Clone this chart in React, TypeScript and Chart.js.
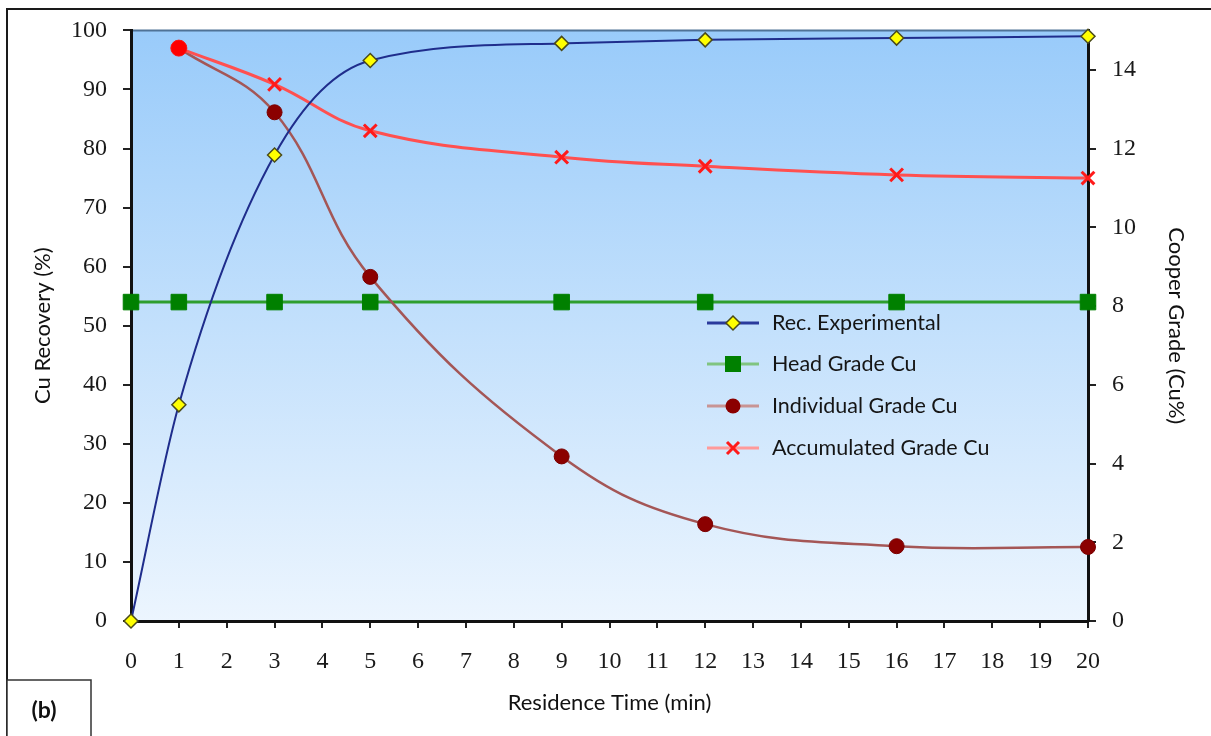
import { useEffect, useRef } from 'react';
import { Chart, registerables } from 'chart.js';

Chart.register(...registerables);

const timeAll = [0, 1, 3, 5, 9, 12, 16, 20];
const recExperimental = [0, 36.6, 78.9, 94.9, 97.8, 98.4, 98.7, 99.0];
const headGradeCu = [8.1, 8.1, 8.1, 8.1, 8.1, 8.1, 8.1, 8.1];
const timeGrade = [1, 3, 5, 9, 12, 16, 20];
const individualGradeCu = [14.55, 12.92, 8.74, 4.18, 2.46, 1.9, 1.88];
const accumulatedGradeCu = [14.55, 13.63, 12.45, 11.78, 11.55, 11.33, 11.25];

const xTickValues = [0, 1, 2, 3, 4, 5, 6, 7, 8, 9, 10, 11, 12, 13, 14, 15, 16, 17, 18, 19, 20];
const leftTickValues = [0, 10, 20, 30, 40, 50, 60, 70, 80, 90, 100];
const rightTickValues = [0, 2, 4, 6, 8, 10, 12, 14];

const seriesNames = ['Rec. Experimental', 'Head Grade Cu', 'Individual Grade Cu', 'Accumulated Grade Cu'];
const xTitle = 'Residence Time (min)';
const yTitle = 'Cu Recovery (%)';
const y1Title = 'Cooper Grade (Cu%)';
const panelLabel = '(b)';

const SANS = 'Lato, "Open Sans", sans-serif';
const SERIF = '"Liberation Serif", "DejaVu Serif", serif';

const pts = (xs: number[], ys: number[]) => xs.map((x, i) => ({ x, y: ys[i] }));

const decorPlugin = {
  id: 'decor',
  beforeDraw(chart: any) {
    const { ctx, chartArea: a } = chart;
    ctx.save();
    ctx.fillStyle = '#ffffff';
    ctx.fillRect(0, 0, chart.width, chart.height);
    const g = ctx.createLinearGradient(0, a.top, 0, a.bottom);
    g.addColorStop(0, '#99cbfa');
    g.addColorStop(1, '#ecf5fe');
    ctx.fillStyle = g;
    ctx.fillRect(a.left, a.top, a.right - a.left, a.bottom - a.top);
    ctx.strokeStyle = '#4f7296';
    ctx.lineWidth = 2;
    ctx.beginPath();
    ctx.moveTo(a.left, a.top);
    ctx.lineTo(a.right, a.top);
    ctx.stroke();
    ctx.restore();
  },
  afterDraw(chart: any) {
    const { ctx } = chart;
    ctx.save();
    // legend
    const lx0 = 707, lx1 = 759, mx = 733, tx = 772;
    const rows = [323, 364, 406, 448];
    const lineCols = ['#2a3a9c', '#80c480', '#c89494', '#ff9a9a'];
    rows.forEach((y, i) => {
      ctx.strokeStyle = lineCols[i];
      ctx.lineWidth = 3;
      ctx.beginPath();
      ctx.moveTo(lx0, y);
      ctx.lineTo(lx1, y);
      ctx.stroke();
      if (i === 0) {
        ctx.fillStyle = '#ffff00';
        ctx.strokeStyle = '#4a4a1a';
        ctx.lineWidth = 1.5;
        ctx.beginPath();
        ctx.moveTo(mx, y - 7);
        ctx.lineTo(mx + 7, y);
        ctx.lineTo(mx, y + 7);
        ctx.lineTo(mx - 7, y);
        ctx.closePath();
        ctx.fill();
        ctx.stroke();
      } else if (i === 1) {
        ctx.fillStyle = '#008000';
        ctx.fillRect(mx - 8, y - 8, 16, 16);
      } else if (i === 2) {
        ctx.fillStyle = '#8b0000';
        ctx.beginPath();
        ctx.arc(mx, y, 7.5, 0, Math.PI * 2);
        ctx.fill();
      } else {
        ctx.strokeStyle = '#ff1a1a';
        ctx.lineWidth = 3;
        ctx.beginPath();
        ctx.moveTo(mx - 6, y - 6);
        ctx.lineTo(mx + 6, y + 6);
        ctx.moveTo(mx + 6, y - 6);
        ctx.lineTo(mx - 6, y + 6);
        ctx.stroke();
      }
      ctx.fillStyle = '#151515';
      ctx.font = '21.5px ' + SANS;
      ctx.textBaseline = 'middle';
      ctx.textAlign = 'left';
      ctx.fillText(seriesNames[i], tx, y);
    });
    // outer frame
    ctx.strokeStyle = '#1a1a1a';
    ctx.lineWidth = 2;
    ctx.beginPath();
    ctx.moveTo(7, 740);
    ctx.lineTo(7, 9);
    ctx.lineTo(1215, 9);
    ctx.stroke();
    // panel label box
    ctx.fillStyle = '#ffffff';
    ctx.fillRect(7, 680, 84, 60);
    ctx.strokeStyle = '#333333';
    ctx.lineWidth = 1.5;
    ctx.strokeRect(7, 680, 84, 70);
    ctx.fillStyle = '#111111';
    ctx.font = 'bold 23px ' + SANS;
    ctx.textAlign = 'center';
    ctx.textBaseline = 'middle';
    ctx.fillText(panelLabel, 44, 711);
    ctx.restore();
  },
};

export default function App() {
  const ref = useRef<HTMLCanvasElement>(null);
  useEffect(() => {
    if (!ref.current) return;
    const tickFont = { family: SERIF, size: 24 };
    const titleFont = { family: SANS, size: 22 };
    const chart = new Chart(ref.current, {
      type: 'line',
      data: {
        datasets: [
          {
            label: seriesNames[0],
            data: pts(timeAll, recExperimental),
            yAxisID: 'y',
            borderColor: '#1f2d8c',
            borderWidth: 2,
            cubicInterpolationMode: 'monotone',
            pointStyle: 'rectRot',
            pointRadius: 7,
            pointBackgroundColor: '#ffff00',
            pointBorderColor: '#4a4a1a',
            pointBorderWidth: 1.5,
            clip: false,
            order: 0,
          },
          {
            label: seriesNames[1],
            data: pts(timeAll, headGradeCu),
            yAxisID: 'y1',
            borderColor: '#2e9e2e',
            borderWidth: 3,
            tension: 0,
            pointStyle: 'rect',
            pointRadius: 11,
            pointBackgroundColor: '#008000',
            pointBorderColor: '#008000',
            pointBorderWidth: 1,
            clip: false,
            order: 3,
          },
          {
            label: seriesNames[2],
            data: pts(timeGrade, individualGradeCu),
            yAxisID: 'y1',
            borderColor: '#a45656',
            borderWidth: 2.5,
            tension: 0.4,
            pointStyle: 'circle',
            pointRadius: 7.5,
            pointBackgroundColor: '#8b0000',
            pointBorderColor: '#7a0000',
            pointBorderWidth: 1,
            clip: false,
            order: 2,
          },
          {
            label: seriesNames[3],
            data: pts(timeGrade, accumulatedGradeCu),
            yAxisID: 'y1',
            borderColor: '#ff5050',
            borderWidth: 3,
            tension: 0.4,
            pointStyle: ['circle', 'crossRot', 'crossRot', 'crossRot', 'crossRot', 'crossRot', 'crossRot'],
            pointRadius: [8, 9, 9, 9, 9, 9, 9],
            pointBackgroundColor: '#ff0000',
            pointBorderColor: '#ff1a1a',
            pointBorderWidth: [1, 3, 3, 3, 3, 3, 3],
            clip: false,
            order: 1,
          },
        ],
      },
      options: {
        responsive: false,
        animation: false,
        layout: { padding: { top: 30, left: 0, right: 0, bottom: 0 } },
        plugins: { legend: { display: false }, tooltip: { enabled: false } },
        scales: {
          x: {
            type: 'linear',
            position: 'bottom',
            min: 0,
            max: 20,
            afterBuildTicks: (s: any) => { s.ticks = xTickValues.map((v) => ({ value: v })); },
            afterFit: (s: any) => { s.height = 115; },
            ticks: { font: tickFont, color: '#1a1a1a', padding: 19, maxRotation: 0, autoSkip: false },
            grid: { drawOnChartArea: false, tickLength: 7, color: '#222', lineWidth: 2 },
            border: { color: '#111', width: 3 },
            title: { display: true, text: xTitle, font: titleFont, color: '#111', padding: { top: 0, bottom: 20 } },
          },
          y: {
            type: 'linear',
            position: 'left',
            min: 0,
            max: 100,
            afterBuildTicks: (s: any) => { s.ticks = leftTickValues.map((v) => ({ value: v })); },
            afterFit: (s: any) => { s.width = 131; },
            ticks: { font: tickFont, color: '#1a1a1a', padding: 16 },
            grid: { drawOnChartArea: false, tickLength: 8, color: '#222', lineWidth: 2 },
            border: { color: '#111', width: 3 },
            title: { display: true, text: yTitle, font: titleFont, color: '#111', padding: { top: 30, bottom: 0 } },
          },
          y1: {
            type: 'linear',
            position: 'right',
            min: 0,
            max: 15,
            afterBuildTicks: (s: any) => { s.ticks = rightTickValues.map((v) => ({ value: v })); },
            afterFit: (s: any) => { s.width = 123; },
            ticks: { font: tickFont, color: '#1a1a1a', padding: 16 },
            grid: { drawOnChartArea: false, tickLength: 8, color: '#222', lineWidth: 2 },
            border: { color: '#111', width: 3 },
            title: { display: true, text: y1Title, font: titleFont, color: '#111', padding: { top: 22, bottom: 0 } },
          },
        },
      },
      plugins: [decorPlugin],
    } as any);
    return () => chart.destroy();
  }, []);
  return (
    <div style={{ position: 'absolute', left: 0, top: 0, width: 1211, height: 736 }}>
      <canvas ref={ref} width={1211} height={736} />
    </div>
  );
}
